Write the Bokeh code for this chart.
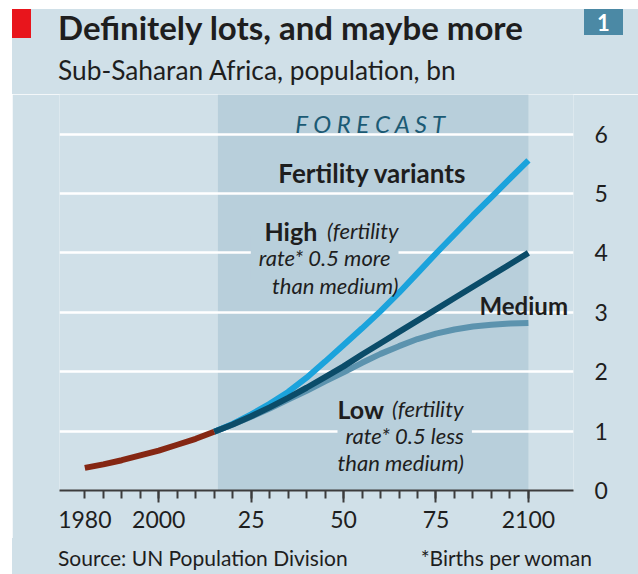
from bokeh.plotting import figure
from bokeh.models import Range1d, FixedTicker, Label, BoxAnnotation, Spacer, Div
from bokeh.layouts import row, column
from bokeh.embed import file_html
from bokeh.resources import INLINE

# ---------------- data ----------------
years_hist = [1980, 1985, 1990, 1995, 2000, 2005, 2010, 2015]
pop_hist = [0.38, 0.44, 0.51, 0.59, 0.67, 0.77, 0.87, 0.99]

years_fc = [2015, 2020, 2025, 2030, 2035, 2040, 2045, 2050, 2055,
            2060, 2065, 2070, 2075, 2080, 2085, 2090, 2095, 2100]
pop_high = [0.99, 1.12, 1.28, 1.46, 1.66, 1.90, 2.17, 2.45, 2.73,
            3.02, 3.33, 3.66, 3.99, 4.31, 4.63, 4.94, 5.25, 5.56]
pop_medium = [0.99, 1.11, 1.25, 1.40, 1.56, 1.73, 1.91, 2.09, 2.29,
              2.48, 2.67, 2.86, 3.05, 3.24, 3.43, 3.62, 3.81, 4.00]
pop_low = [0.99, 1.11, 1.24, 1.38, 1.53, 1.68, 1.84, 1.99, 2.15,
           2.30, 2.43, 2.55, 2.64, 2.71, 2.76, 2.79, 2.81, 2.82]

forecast_start, forecast_end = 2016, 2100
x_ticks = list(range(1980, 2101, 5))
x_long_ticks = [2000, 2025, 2050, 2075, 2100]
x_tick_labels = {1980: "1980", 2000: "2000", 2025: "25", 2050: "50", 2075: "75", 2100: "2100"}
y_ticks = [0, 1, 2, 3, 4, 5, 6]

title = "Definitely lots, and maybe more"
subtitle = "Sub-Saharan Africa, population, bn"
source = "Source: UN Population Division"
footnote = "*Births per woman"
chart_number = "1"

# ---------------- style ----------------
FONT = "Lato"
BG = "#d0e0e8"
SHADE = "#b8cfdb"
TXT = "#1e1e1e"
AX = "#3c3c3c"
RED = "#e8151c"
NUMBOX = "#4b89a5"
C_HIST = "#852713"
C_HIGH = "#1ba3dc"
C_MED = "#0b4c69"
C_LOW = "#5c93ae"
C_FC = "#1b5a74"

PAGE_W, PAGE_H = 638, 574
X0, Y0 = 12, 9                 # white strip left / top
HEAD_H = 94                    # page 0 .. 94
FRAME_H = 396                  # page 94 .. 490
AXIS_H = 48                    # page 490 .. 538
FOOT_H = PAGE_H - HEAD_H - FRAME_H - AXIS_H   # 36
W = PAGE_W - X0
BL, BR = 59 - X0, PAGE_W - 573


def svg_text(x, y, text, size, weight="normal", color=TXT, anchor="start"):
    return (f'<text x="{x}" y="{y}" text-anchor="{anchor}" '
            f'style="font-family:{FONT};font-weight:{weight};font-size:{size}px;fill:{color}">'
            f'{text}</text>')


# ---------------- header (inline svg in a Div) ----------------
head_svg = (
    f'<svg xmlns="http://www.w3.org/2000/svg" width="{PAGE_W}" height="{HEAD_H}" style="display:block">'
    f'<rect x="0" y="0" width="{PAGE_W}" height="{HEAD_H}" fill="white"/>'
    f'<rect x="{X0}" y="{Y0}" width="{PAGE_W - X0}" height="{HEAD_H - Y0}" fill="{BG}"/>'
    f'<rect x="12" y="9" width="19" height="29" fill="{RED}"/>'
    f'<rect x="584" y="9" width="39" height="26" fill="{NUMBOX}"/>'
    + svg_text(603.5, 31, chart_number, 22, "bold", "white", "middle")
    + svg_text(58, 40, title, 33, "bold")
    + svg_text(58, 80, subtitle, 26.3)
    + '</svg>')
head = Div(text=head_svg, width=PAGE_W, height=HEAD_H, styles={"margin": "0", "padding": "0"})

# ---------------- footer ----------------
foot_svg = (
    f'<svg xmlns="http://www.w3.org/2000/svg" width="{PAGE_W}" height="{FOOT_H}" style="display:block">'
    f'<rect x="0" y="0" width="{PAGE_W}" height="{FOOT_H}" fill="white"/>'
    f'<rect x="{X0}" y="0" width="{PAGE_W - X0}" height="{FOOT_H}" fill="{BG}"/>'
    + svg_text(58, 28, source, 21)
    + svg_text(592, 28, footnote, 21, anchor="end")
    + '</svg>')
foot = Div(text=foot_svg, width=PAGE_W, height=FOOT_H, styles={"margin": "0", "padding": "0"})

# ---------------- main chart ----------------
p = figure(width=W, height=FRAME_H + AXIS_H, output_backend="svg", toolbar_location=None,
           x_range=Range1d(1973.15, 2112.2), y_range=Range1d(0, 6.667),
           y_axis_location="right",
           min_border_left=BL, min_border_right=BR, min_border_top=0, min_border_bottom=AXIS_H,
           background_fill_color=BG, border_fill_color=BG, outline_line_color=None)

p.add_layout(BoxAnnotation(left=forecast_start, right=forecast_end, fill_color=SHADE,
                           fill_alpha=1, line_color=None, level="image"))

p.xgrid.grid_line_color = None
p.ygrid.ticker = FixedTicker(ticks=y_ticks)
p.ygrid.grid_line_color = "white"
p.ygrid.grid_line_width = 2.5

xa = p.xaxis[0]
xa.ticker = FixedTicker(ticks=x_ticks, minor_ticks=x_long_ticks)
xa.major_label_overrides = {t: x_tick_labels.get(t, "") for t in x_ticks}
xa.axis_line_color = AX
xa.axis_line_width = 2
xa.major_tick_line_color = AX
xa.major_tick_line_width = 2
xa.major_tick_in = 0
xa.major_tick_out = 8
xa.minor_tick_line_color = AX
xa.minor_tick_line_width = 2
xa.minor_tick_in = 0
xa.minor_tick_out = 12
xa.major_label_standoff = 8
xa.major_label_text_font = FONT
xa.major_label_text_font_size = "23px"
xa.major_label_text_color = TXT

ya = p.yaxis[0]
ya.ticker = FixedTicker(ticks=y_ticks)
ya.axis_line_color = None
ya.major_tick_line_color = None
ya.minor_tick_line_color = None
ya.major_tick_in = 0
ya.major_tick_out = 0
ya.major_label_standoff = 21
ya.major_label_text_font = FONT
ya.major_label_text_font_size = "23px"
ya.major_label_text_color = TXT

p.line(years_fc, pop_low, line_width=6, color=C_LOW)
p.line(years_fc, pop_high, line_width=6, color=C_HIGH)
p.line(years_fc, pop_medium, line_width=6, color=C_MED)
p.line(years_hist, pop_hist, line_width=6, color=C_HIST)

mx, my = 59, HEAD_H + FRAME_H   # page coords of frame bottom-left


def lab(text, px, py, size, style="normal", color=TXT, align="left", bg=None):
    l = Label(x=px - mx, y=my - py, x_units="screen", y_units="screen", text=text,
              text_font=FONT, text_font_size=f"{size}px", text_font_style=style,
              text_color=color, text_align=align, text_baseline="alphabetic")
    if bg is not None:
        l.background_fill_color = bg
        l.padding = 8
    p.add_layout(l)


lab("F O R E C A S T", 371, 123, 24, "italic", C_FC, "center")
lab("Fertility variants", 372, 172, 26, "bold", TXT, "center")

lab("rate* 0.5 more", 398, 257, 22, "italic", TXT, "right", bg=SHADE)
lab("High", 264, 230, 25, "bold")
lab("(fertility", 398, 230, 22, "italic", TXT, "right")
lab("than medium)", 398, 285, 22, "italic", TXT, "right")

lab("Medium", 479, 305, 24, "bold")

lab("rate* 0.5 less", 337, 435, 22, "italic", TXT, "left", bg=SHADE)
lab("Low", 337, 408, 25, "bold")
lab("(fertility", 463, 408, 22, "italic", TXT, "right")
lab("than medium)", 337, 462, 22, "italic", TXT, "left")

layout = column(head,
                row(Spacer(width=X0, height=FRAME_H + AXIS_H), p, spacing=0),
                foot, spacing=0)

open("out.html", "w").write(file_html(layout, INLINE))
